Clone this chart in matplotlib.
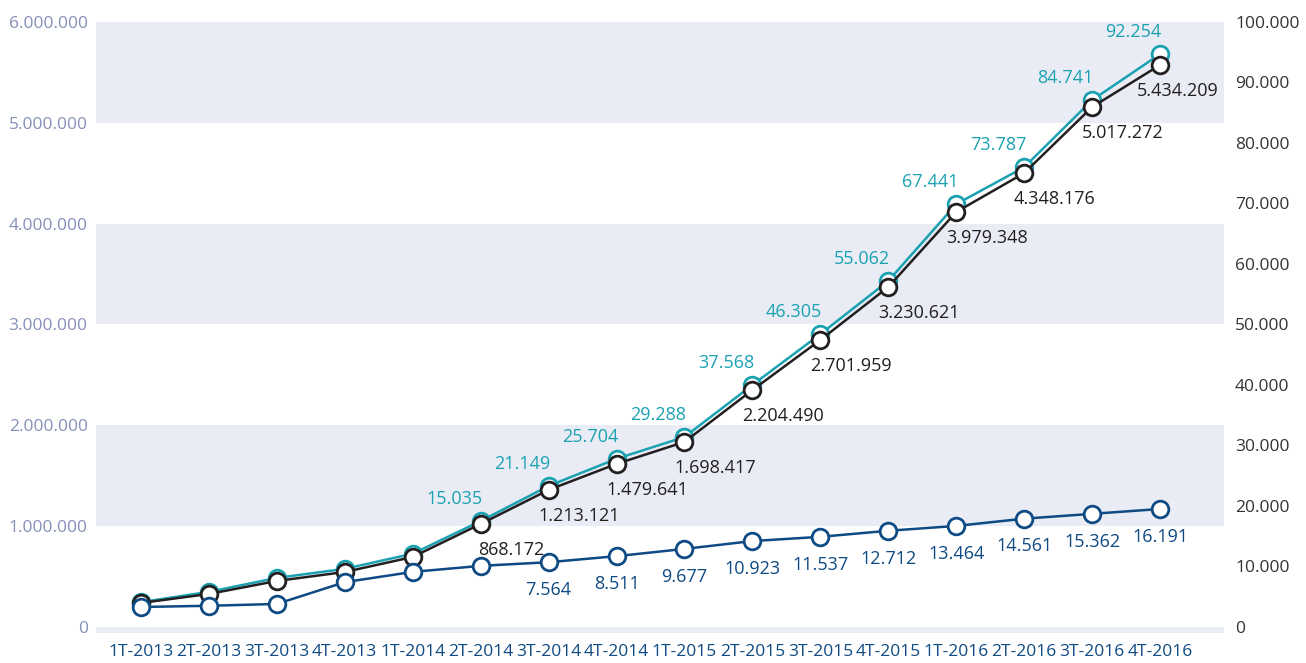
import numpy as np
import matplotlib.pyplot as plt
from matplotlib.ticker import FuncFormatter

# quarters on the x axis
quarters = ['1T-2013', '2T-2013', '3T-2013', '4T-2013',
            '1T-2014', '2T-2014', '3T-2014', '4T-2014',
            '1T-2015', '2T-2015', '3T-2015', '4T-2015',
            '1T-2016', '2T-2016', '3T-2016', '4T-2016']

# marker heights (left axis for black, right for teal/navy)
black_vals = [238000, 327000, 456000, 545000, 694000, 1021000, 1359000, 1617000,
              1835000, 2350000, 2846000, 3372000, 4116000, 4502000, 5157000, 5574000]
teal_vals = [4100, 5800, 8100, 9600, 12100, 17500, 23300, 27800,
             31400, 40000, 48400, 57200, 69900, 76000, 87100, 94700]
navy_vals = [3300, 3500, 3800, 7400, 9100, 10100, 10700, 11700,
             12900, 14200, 14900, 15900, 16700, 17900, 18700, 19500]

# printed labels (None = no label on that point)
black_labels = [None] * 5 + ['868.172', '1.213.121', '1.479.641', '1.698.417', '2.204.490',
                             '2.701.959', '3.230.621', '3.979.348', '4.348.176',
                             '5.017.272', '5.434.209']
teal_labels = [None] * 5 + ['15.035', '21.149', '25.704', '29.288', '37.568', '46.305',
                            '55.062', '67.441', '73.787', '84.741', '92.254']
navy_labels = [None] * 6 + ['7.564', '8.511', '9.677', '10.923', '11.537', '12.712',
                            '13.464', '14.561', '15.362', '16.191']

left_ticks = [0, 1000000, 2000000, 3000000, 4000000, 5000000, 6000000]
right_ticks = [0, 10000, 20000, 30000, 40000, 50000, 60000, 70000, 80000, 90000, 100000]

TEAL = '#1ba2b2'
BLACK = '#231f20'
NAVY = '#0e4a83'
BAND = '#e9ecf4'

plt.rcParams['font.family'] = ['Open Sans', 'DejaVu Sans']


def dotted(v, pos=None):
    return f"{int(v):,}".replace(',', '.')


fig = plt.figure(figsize=(13.06, 6.63), dpi=100)
ax = fig.add_axes([96 / 1306, 30 / 663, (1224 - 96) / 1306, (641 - 30) / 663])
ax2 = ax.twinx()

x = np.arange(len(quarters))
ratio = left_ticks[-1] / right_ticks[-1]
ymin = -60000
ax.set_ylim(ymin, left_ticks[-1])
ax2.set_ylim(ymin / ratio, right_ticks[-1])
ax.set_xlim(-0.66, len(quarters) - 1 + 0.94)

# alternating bands
for lo in (1000000, 3000000, 5000000):
    ax.axhspan(lo, lo + 1000000, color=BAND, lw=0, zorder=0)
ax.axhspan(ymin, 0, color=BAND, lw=0, zorder=0)

for s in list(ax.spines.values()) + list(ax2.spines.values()):
    s.set_visible(False)

ax.set_yticks(left_ticks)
ax.yaxis.set_major_formatter(FuncFormatter(dotted))
ax.tick_params(axis='y', length=0, pad=6, labelsize=12.5, labelcolor='#8590b8')
ax2.set_yticks(right_ticks)
ax2.yaxis.set_major_formatter(FuncFormatter(dotted))
ax2.tick_params(axis='y', length=0, pad=8, labelsize=12.5, labelcolor='#333333')
ax.set_xticks(x)
ax.set_xticklabels(quarters)
ax.tick_params(axis='x', length=0, pad=8, labelsize=12.5, labelcolor=NAVY)

mk = dict(marker='o', markersize=12, markerfacecolor='white', markeredgewidth=2, lw=1.8)
ax2.plot(x, teal_vals, color=TEAL, zorder=3, **mk)
ax2.plot(x, black_vals, color=BLACK, zorder=4, transform=ax.transData, **mk)
ax2.plot(x, navy_vals, color=NAVY, zorder=5, **mk)

lab_kw = dict(textcoords='offset points', ha='center', va='center',
              fontsize=13, fontweight='medium', zorder=6)
for i, lab in enumerate(teal_labels):
    if lab:
        ax2.annotate(lab, (x[i], teal_vals[i]), xytext=(-19, 16), color=TEAL, **lab_kw)
for i, lab in enumerate(black_labels):
    if lab:
        dx = 22 if i < len(quarters) - 1 else 13
        ax2.annotate(lab, (x[i], black_vals[i]), xycoords=ax.transData, xytext=(dx, -19),
                     color=BLACK, **lab_kw)
for i, lab in enumerate(navy_labels):
    if lab:
        ax2.annotate(lab, (x[i], navy_vals[i]), xytext=(0, -20), color=NAVY, **lab_kw)

fig.savefig('out.png', dpi=100)
